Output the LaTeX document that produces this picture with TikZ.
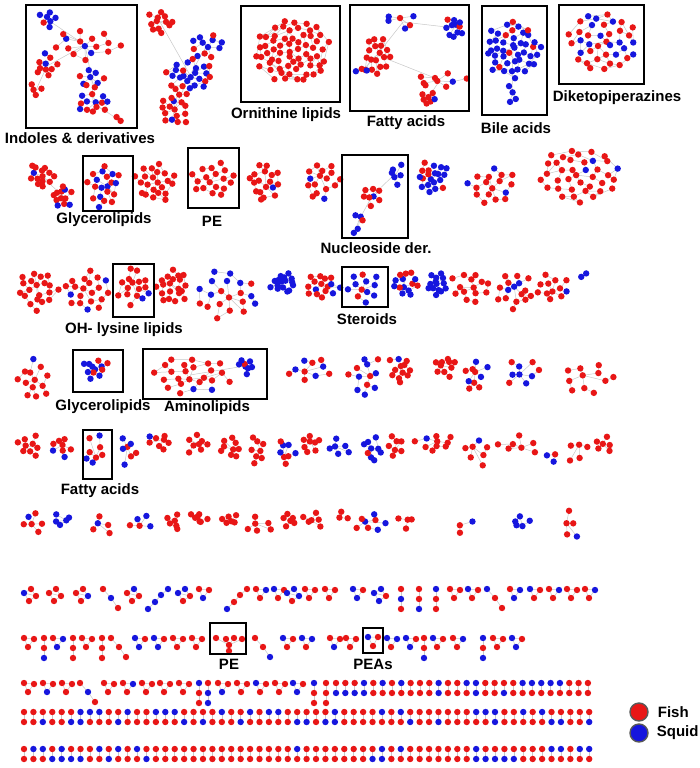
\documentclass[tikz,border=0pt]{standalone}
\usepackage{fontspec}
\setmainfont{Liberation Sans}
\usetikzlibrary{positioning}
\definecolor{FishRed}{RGB}{232,22,22}
\definecolor{SquidBlue}{RGB}{22,22,222}
\definecolor{LinkGray}{RGB}{200,200,200}
\tikzset{
  netlink/.style={draw=LinkGray,line width=0.5pt},
  fishdot/.style={fill=FishRed},
  squiddot/.style={fill=SquidBlue},
  catbox/.style={draw=black,line width=1.3pt},
  catlabel/.style={font=\fontsize{15}{17}\selectfont\bfseries,inner sep=0pt},
  legdot/.style={circle,draw=gray!70!black,line width=1.4pt,minimum size=18pt,inner sep=0pt},
  legtext/.style={font=\fontsize{15}{17}\selectfont\bfseries,inner sep=0pt}
}
\newcommand\bluep{0.3}
\gdef\netdotlist{}
% one dot, blue with probability \bluep
\newcommand\netdot[2]{%
  \pgfmathtruncatemacro\netisblue{rnd<\bluep}%
  \ifnum\netisblue=1 \fill[squiddot] (#1,#2) circle[radius=3.2];%
  \else \fill[fishdot] (#1,#2) circle[radius=3.2];\fi}
% same, but kept for later so that all dots lie above all links
\newcommand\netkeepdot[2]{%
  \pgfmathtruncatemacro\netisblue{rnd<\bluep}%
  \ifnum\netisblue=1 \def\netcol{squiddot}\else\def\netcol{fishdot}\fi
  \xdef\netdotlist{\unexpanded\expandafter{\netdotlist}\noexpand\fill[\netcol] (#1,#2) circle[radius=3.2];}}
% spread cluster: name, cx, cy, rx, ry, count, share of blue
\newcommand\netcluster[7]{%
  \coordinate (#1) at (#2,#3);
  \pgfmathsetmacro\netrot{rnd*360}%
  \foreach \i in {1,...,#6}{%
    \pgfmathsetmacro\netr{sqrt((\i-0.5)/#6)}%
    \pgfmathsetmacro\netnx{#2+#4*\netr*cos(\i*137.508+\netrot)+(rnd-0.5)*4}%
    \pgfmathsetmacro\netny{#3+#5*\netr*sin(\i*137.508+\netrot)+(rnd-0.5)*4}%
    \expandafter\xdef\csname netx\i\endcsname{\netnx}%
    \expandafter\xdef\csname nety\i\endcsname{\netny}%
  }%
  \foreach \i in {2,...,#6}{%
    \pgfmathtruncatemacro\netj{\i>8 ? \i-(rnd<0.5 ? 8 : 5) : (\i>5 ? \i-5 : 1)}%
    \draw[netlink] (\csname netx\i\endcsname,\csname nety\i\endcsname)
      -- (\csname netx\netj\endcsname,\csname nety\netj\endcsname);
    \pgfmathtruncatemacro\netk{\i>13 && rnd<0.3 ? \i-13 : 0}%
    \ifnum\netk>0
      \draw[netlink] (\csname netx\i\endcsname,\csname nety\i\endcsname)
        -- (\csname netx\netk\endcsname,\csname nety\netk\endcsname);
    \fi
  }%
  \def\bluep{#7}%
  \foreach \i in {1,...,#6}{%
    \edef\netpx{\csname netx\i\endcsname}\edef\netpy{\csname nety\i\endcsname}%
    \netkeepdot{\netpx}{\netpy}}%
}
% small groups of the lower rows
\newcommand\grpv[2]{\draw[netlink] (#1,#2) -- (#1+4,#2+9) -- (#1+10,#2+1) -- cycle;
  \netdot{#1}{#2}\netdot{#1+10}{#2+1}\netdot{#1+4}{#2+9}}
\newcommand\grpl[2]{\draw[netlink] (#1,#2) -- (#1,#2+20);
  \netdot{#1}{#2}\netdot{#1}{#2+10}\netdot{#1}{#2+20}}
\newcommand\grpd[2]{\draw[netlink] (#1,#2) -- (#1+8,#2+9) -- (#1+15,#2+19);
  \netdot{#1}{#2}\netdot{#1+8}{#2+9}\netdot{#1+15}{#2+19}}
\newcommand\grpa[2]{\draw[netlink] (#1,#2+20) -- (#1+7,#2+13) -- (#1+13,#2+6) -- (#1+20,#2);
  \netdot{#1}{#2+20}\netdot{#1+7}{#2+13}\netdot{#1+13}{#2+6}\netdot{#1+20}{#2}}
\newcommand\grpq[2]{\draw[netlink] (#1,#2+4) -- (#1+7,#2) -- (#1+12,#2+7) -- (#1+5,#2+12) -- cycle (#1,#2+4) -- (#1+12,#2+7);
  \netdot{#1}{#2+4}\netdot{#1+7}{#2}\netdot{#1+12}{#2+7}\netdot{#1+5}{#2+12}}
\newcommand\grpp[2]{\draw[netlink] (#1,#2) -- (#1,#2+10);
  \netdot{#1}{#2}\netdot{#1}{#2+10}}

\begin{document}
\begin{tikzpicture}[x=1pt,y=-1pt]
  \pgfmathsetseed{4242}
  \fill[white] (0,0) rectangle (700,768);
  \useasboundingbox (0,0) rectangle (700,768);

  % first row
  \netcluster{indA}{48}{20}{10}{10}{7}{0.75}
  \netcluster{indB}{85}{45}{35}{16}{16}{0.2}
  \netcluster{indC}{47}{66}{13}{11}{10}{0.4}
  \netcluster{indD}{92}{80}{15}{9}{9}{0.3}
  \netcluster{indE}{93}{103}{17}{12}{13}{0.6}
  \netcluster{indF}{36}{90}{7}{8}{4}{0}
  \netcluster{indG}{116}{118}{6}{6}{2}{0}
  \netcluster{colA}{160}{22}{14}{12}{12}{0}
  \netcluster{colB}{207}{45}{18}{14}{12}{0.7}
  \netcluster{colC}{190}{75}{24}{16}{24}{0.6}
  \netcluster{colD}{175}{108}{15}{20}{18}{0.1}
  \netcluster{orn}{292}{52}{38}{32}{62}{0}
  \netcluster{fatA}{377}{55}{13}{22}{18}{0.03}
  \netcluster{fatB}{403}{22}{22}{8}{6}{0.3}
  \netcluster{fatC}{455}{28}{11}{10}{11}{0.65}
  \netcluster{fatD}{362}{71}{6}{3}{3}{0.8}
  \netcluster{fatE}{440}{80}{28}{9}{9}{0.3}
  \netcluster{fatF}{428}{98}{7}{7}{7}{0.15}
  \netcluster{bileA}{513}{50}{28}{28}{45}{0.75}
  \netcluster{bileB}{512}{95}{6}{12}{4}{1}
  \netcluster{dkp}{602}{42}{36}{30}{38}{0.35}
  \draw[netlink] (indA) -- (indB) -- (indC) -- (indF) (indB) -- (indD) -- (indE) -- (indG);
  \draw[netlink] (colA) -- (colC) -- (colB) (colC) -- (colD);
  \draw[netlink] (fatD) -- (fatA) -- (fatB) -- (fatC) (fatA) -- (fatE) -- (fatF);
  \draw[netlink] (bileA) -- (bileB);

  % second row
  \netcluster{rtA}{40}{175}{13}{12}{14}{0.05}
  \netcluster{rtB}{63}{196}{10}{12}{12}{0.25}
  \netcluster{glyA}{104}{185}{16}{22}{20}{0.45}
  \netcluster{rtC}{155}{183}{20}{20}{22}{0}
  \netcluster{peA}{213}{180}{22}{18}{18}{0}
  \netcluster{rtD}{265}{183}{17}{20}{18}{0.2}
  \netcluster{rtE}{322}{180}{18}{20}{16}{0.2}
  \netcluster{nucA}{396}{173}{8}{11}{6}{0.95}
  \netcluster{nucB}{372}{196}{12}{9}{8}{0.3}
  \netcluster{nucC}{358}{222}{7}{14}{5}{0.8}
  \netcluster{rtF}{433}{177}{16}{15}{20}{0.6}
  \netcluster{rtG}{492}{185}{25}{20}{17}{0.1}
  \netcluster{rtH}{580}{175}{42}{28}{38}{0.2}
  \draw[netlink] (rtA) -- (rtB) (nucA) -- (nucB) -- (nucC);

  % third row
  \netcluster{rwA}{37}{290}{20}{22}{20}{0.05}
  \netcluster{rwB}{87}{292}{23}{22}{20}{0.15}
  \netcluster{ohl}{135}{287}{16}{20}{16}{0.1}
  \netcluster{rwC}{173}{287}{16}{18}{20}{0}
  \netcluster{rwD}{228}{295}{32}{26}{20}{0.45}
  \netcluster{rwE}{283}{283}{14}{10}{16}{0.95}
  \netcluster{rwF}{322}{286}{18}{13}{16}{0.4}
  \netcluster{ster}{365}{287}{18}{16}{12}{0.8}
  \netcluster{rwG}{405}{283}{14}{14}{14}{0.5}
  \netcluster{rwH}{437}{285}{10}{13}{14}{0.95}
  \netcluster{rwI}{470}{288}{20}{18}{14}{0.1}
  \netcluster{rwJ}{515}{290}{18}{20}{16}{0.35}
  \netcluster{rwK}{553}{287}{17}{14}{12}{0.1}
  \netcluster{rwL}{583}{273}{6}{4}{2}{1}

  % fourth row
  \netcluster{rfA}{34}{380}{16}{22}{13}{0.05}
  \netcluster{glyB}{95}{368}{13}{11}{12}{0.5}
  \netcluster{amiA}{190}{375}{40}{19}{24}{0.08}
  \netcluster{amiB}{245}{366}{7}{8}{8}{0.85}
  \netcluster{rfB}{310}{370}{22}{14}{10}{0.4}
  \netcluster{rfC}{365}{375}{17}{22}{12}{0.6}
  \netcluster{rfD}{400}{370}{12}{15}{12}{0.05}
  \netcluster{rfE}{445}{367}{11}{12}{10}{0}
  \netcluster{rfF}{475}{375}{13}{17}{10}{0.4}
  \netcluster{rfG}{523}{372}{19}{15}{9}{0.4}
  \netcluster{rfH}{588}{378}{28}{18}{11}{0.1}
  \draw[netlink] (amiA) -- (amiB);

  % fifth row
  \netcluster{rvA}{30}{446}{12}{11}{9}{0.2}
  \netcluster{rvB}{62}{447}{11}{11}{8}{0.3}
  \netcluster{fatG}{95}{452}{10}{19}{8}{0.3}
  \netcluster{rvC}{127}{450}{10}{17}{7}{0.5}
  \netcluster{rvD}{160}{442}{12}{7}{8}{0.3}
  \netcluster{rvE}{198}{445}{12}{10}{8}{0}
  \netcluster{rvF}{230}{447}{10}{12}{9}{0}
  \netcluster{rvG}{257}{450}{9}{15}{8}{0}
  \netcluster{rvH}{285}{452}{10}{16}{8}{0.5}
  \netcluster{rvI}{310}{443}{9}{9}{8}{0}
  \netcluster{rvJ}{340}{447}{12}{12}{6}{0.9}
  \netcluster{rvK}{373}{450}{10}{14}{9}{0.9}
  \netcluster{rvL}{396}{446}{11}{11}{7}{0.2}
  \netcluster{rvM}{435}{443}{22}{9}{10}{0.1}
  \netcluster{rvN}{476}{452}{14}{16}{7}{0.3}
  \netcluster{rvO}{520}{445}{22}{10}{7}{0}
  \netcluster{rvP}{553}{458}{7}{7}{3}{0.3}
  \netcluster{rvQ}{578}{450}{11}{15}{5}{0}
  \netcluster{rvR}{605}{445}{10}{9}{6}{0}

  % sixth row
  \netcluster{rxA}{33}{522}{12}{10}{6}{0.15}
  \netcluster{rxB}{62}{520}{10}{8}{5}{0.5}
  \netcluster{rxC}{100}{524}{12}{11}{5}{0.2}
  \netcluster{rxD}{140}{524}{15}{11}{5}{0.2}
  \netcluster{rxE}{174}{522}{9}{9}{6}{0}
  \netcluster{rxF}{198}{518}{8}{7}{7}{0}
  \netcluster{rxG}{230}{520}{10}{7}{6}{0}
  \netcluster{rxH}{261}{525}{14}{12}{6}{0.1}
  \netcluster{rxI}{288}{520}{7}{8}{6}{0}
  \netcluster{rxJ}{313}{520}{11}{8}{6}{0}
  \netcluster{rxK}{342}{516}{9}{5}{3}{0}
  \netcluster{rxL}{370}{522}{20}{10}{8}{0.3}
  \netcluster{rxM}{405}{522}{9}{10}{4}{0}
  \netcluster{rxN}{465}{525}{10}{7}{3}{0.2}
  \netcluster{rxO}{522}{522}{14}{7}{5}{0.7}
  \netcluster{rxP}{570}{525}{7}{16}{5}{0.1}

  \netdotlist

  % boxes and labels of the clusters
  \draw[catbox] (26,5) rectangle (137,128);
  \draw[catbox] (241,6) rectangle (340,102);
  \draw[catbox] (350,5) rectangle (469,111);
  \draw[catbox] (482,6) rectangle (547,115);
  \draw[catbox] (559,5) rectangle (644,84);
  \node[catlabel] (lblind) at (80,138) {Indoles \& derivatives};
  \node[catlabel] (lblorn) at (286,115) {Ornithine lipids};
  \node[catlabel] (lblfatA) at (406,123) {Fatty acids};
  \node[catlabel] (lblbile) at (516,128) {Bile acids};
  \node[catlabel] (lbldkp) at (617,98) {Diketopiperazines};
  \draw[catbox] (83,156) rectangle (133,211);
  \draw[catbox] (188,148) rectangle (239,208);
  \draw[catbox] (342,155) rectangle (408,238);
  \node[catlabel] (lblglyA) at (104,220) {Glycerolipids};
  \node[catlabel] (lblpeA) at (212,221) {PE};
  \node[catlabel] (lblnuc) at (376,248) {Nucleoside der.};
  \draw[catbox] (113,264) rectangle (154,317);
  \draw[catbox] (342,267) rectangle (388,307);
  \node[catlabel] (lbloh) at (124,330) {OH- lysine lipids};
  \node[catlabel] (lblster) at (367,319) {Steroids};
  \draw[catbox] (73,350) rectangle (123,392);
  \draw[catbox] (143,349) rectangle (267,399);
  \node[catlabel] (lblglyB) at (103,407) {Glycerolipids};
  \node[catlabel] (lblami) at (207,408) {Aminolipids};
  \draw[catbox] (83,430) rectangle (112,479);
  \node[catlabel] (lblfatB) at (100,491) {Fatty acids};

  % small groups and pairs
  \def\bluep{0.3}
  \foreach \t/\x in {q/24,q/49,q/76,d/103,q/127,a/148,q/178,v/199,a/227,v/256,v/274,q/287,v/305,v/325,
      v/353,q/374,l/401,l/419,l/436,v/450,v/468,d/487,v/510,v/530,v/549,v/567,v/585}
    {\csname grp\t\endcsname{\x}{589}}
  \foreach \t/\x in {v/24,l/44,v/53,l/73,v/82,l/102,d/111,v/135,v/154,v/173,v/192,d/255,v/283,v/302,
      v/330,v/346,v/387,v/406,l/424,v/433,v/453,l/483,v/493,v/512}
    {\csname grp\t\endcsname{\x}{638}}
  \foreach \t/\x in {v/24,v/43,v/62,d/80,v/104,v/123,v/142,v/160,v/179,l/199,l/208,v/218,v/237,
      v/256,v/275,v/293,l/314,l/326}
    {\csname grp\t\endcsname{\x}{683}}
  \foreach \k in {0,...,27}{\pgfmathsetmacro\netpx{336+\k*9.33}\grpp{\netpx}{683}}
  \foreach \k in {0,...,60}{\pgfmathsetmacro\netpx{24+\k*9.42}\grpp{\netpx}{712}}
  \foreach \k in {0,...,60}{\pgfmathsetmacro\netpx{24+\k*9.42}\grpp{\netpx}{749}}

  % PE and PEAs
  \draw[netlink] (216,638) -- (229,645) -- (242,639) (226,639) -- (229,645) -- (234,638) (229,645) -- (229,651);
  \foreach \x/\y in {216/638,226/639,234/638,242/639,229/645,229/651}
    \fill[fishdot] (\x,\y) circle[radius=3.2];
  \draw[netlink] (368,637) -- (373,646) -- (378,637) -- cycle;
  \fill[squiddot] (368,637) circle[radius=3.2];
  \fill[fishdot] (378,637) circle[radius=3.2];
  \fill[fishdot] (373,646) circle[radius=3.2];
  \draw[catbox] (210,623) rectangle (246,654);
  \draw[catbox] (363,628) rectangle (383,653);
  \node[catlabel] (lblpeB) at (229,664) {PE};
  \node[catlabel] (lblpeas) at (373,664) {PEAs};

  % legend
  \node[legdot,fill=FishRed] (fishkey) at (639,712) {};
  \node[legdot,fill=SquidBlue] (squidkey) at (639,733) {};
  \node[legtext,right=9pt of fishkey] (fishlbl) {Fish};
  \node[legtext,right=8pt of squidkey] (squidlbl) {Squid};
\end{tikzpicture}
\end{document}
